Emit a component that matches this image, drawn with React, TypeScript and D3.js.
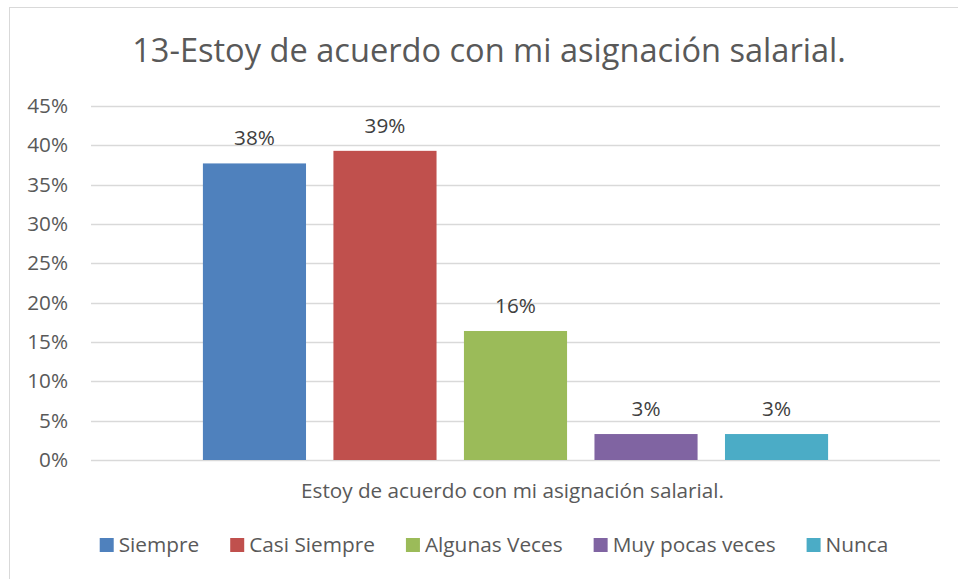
import React, { useEffect, useRef } from "react";
import * as d3 from "d3";

const chartTitle = "13-Estoy de acuerdo con mi asignación salarial.";
const categories = ["Estoy de acuerdo con mi asignación salarial."];
const seriesNames = ["Siempre", "Casi Siempre", "Algunas Veces", "Muy pocas veces", "Nunca"];
const seriesValues = [0.377, 0.393, 0.164, 0.033, 0.033];
const seriesColors = ["#4F81BD", "#C0504D", "#9BBB59", "#8064A2", "#4BACC6"];
const yTicks = [0, 0.05, 0.1, 0.15, 0.2, 0.25, 0.3, 0.35, 0.4, 0.45];

const width = 958;
const height = 579;
const margin = { top: 106, right: 18, bottom: 119, left: 91 };
const textColor = "#595959";
const gridColor = "#D9D9D9";
const font = "'Open Sans', 'Noto Sans', sans-serif";

export default function App() {
  const ref = useRef<SVGSVGElement>(null);

  useEffect(() => {
    const svg = d3.select(ref.current);
    svg.selectAll("*").remove();

    const innerW = width - margin.left - margin.right;
    const innerH = height - margin.top - margin.bottom;

    // chart frame
    svg
      .append("rect")
      .attr("x", 9.5)
      .attr("y", 7.5)
      .attr("width", 970)
      .attr("height", 600)
      .attr("fill", "white")
      .attr("stroke", gridColor);

    svg
      .append("text")
      .attr("x", 489)
      .attr("y", 62)
      .attr("text-anchor", "middle")
      .attr("font-family", font)
      .attr("font-size", 32.6)
      .attr("fill", textColor)
      .text(chartTitle);

    const g = svg.append("g").attr("transform", `translate(${margin.left},${margin.top})`);

    const y = d3.scaleLinear().domain([0, 0.45]).range([innerH, 0]);
    const x0 = d3.scaleBand().domain(categories).range([0, innerW]).paddingInner(0).paddingOuter(0.179);
    const x1 = d3.scaleBand().domain(seriesNames).range([0, x0.bandwidth()]).paddingInner(0.21).paddingOuter(0);

    // gridlines
    g.selectAll("line.grid")
      .data(yTicks)
      .join("line")
      .attr("class", "grid")
      .attr("x1", 0)
      .attr("x2", innerW)
      .attr("y1", (d) => Math.round(y(d)) + 0.5)
      .attr("y2", (d) => Math.round(y(d)) + 0.5)
      .attr("stroke", gridColor)
      .attr("stroke-width", 1.3);

    // y axis labels
    const yAxis = g.append("g").call(d3.axisLeft(y).tickValues(yTicks).tickFormat(d3.format(".0%")).tickSize(0).tickPadding(23));
    yAxis.select(".domain").remove();
    yAxis.selectAll("text").attr("font-family", font).attr("font-size", 20.7).attr("fill", textColor);

    const cat = g.append("g").attr("transform", `translate(${x0(categories[0])},0)`);
    cat
      .selectAll("rect")
      .data(seriesValues)
      .join("rect")
      .attr("x", (_, i) => x1(seriesNames[i]))
      .attr("width", x1.bandwidth())
      .attr("y", (d) => y(d))
      .attr("height", (d) => innerH - y(d))
      .attr("fill", (_, i) => seriesColors[i]);

    cat
      .selectAll("text")
      .data(seriesValues)
      .join("text")
      .attr("x", (_, i) => x1(seriesNames[i]) + x1.bandwidth() / 2)
      .attr("y", (d) => y(d) - 18)
      .attr("text-anchor", "middle")
      .attr("font-family", font)
      .attr("font-size", 20.7)
      .attr("fill", "#404040")
      .text((d) => d3.format(".0%")(d));

    // category axis label
    g.append("text")
      .attr("x", innerW / 2 - 3)
      .attr("y", innerH + 38)
      .attr("text-anchor", "middle")
      .attr("font-family", font)
      .attr("font-size", 20.7)
      .attr("fill", textColor)
      .text(categories[0]);

    // legend
    const legend = svg.append("g");
    const items = legend
      .selectAll("g")
      .data(seriesNames)
      .join("g");
    items
      .append("rect")
      .attr("width", 14)
      .attr("height", 14)
      .attr("y", -14)
      .attr("fill", (_, i) => seriesColors[i]);
    items
      .append("text")
      .attr("x", 19)
      .attr("font-family", font)
      .attr("font-size", 20.8)
      .attr("fill", textColor)
      .text((d) => d);
    let offset = 0;
    items.each(function () {
      const t = d3.select(this).select("text").node() as SVGTextElement;
      d3.select(this).attr("transform", `translate(${offset},0)`);
      offset += 19 + t.getComputedTextLength() + 31;
    });
    const total = offset - 31;
    legend.attr("transform", `translate(${494 - total / 2},552)`);
  }, []);

  return (
    <svg
      ref={ref}
      width={width}
      height={height}
      style={{ position: "absolute", left: 0, top: 0, background: "white" }}
    />
  );
}
